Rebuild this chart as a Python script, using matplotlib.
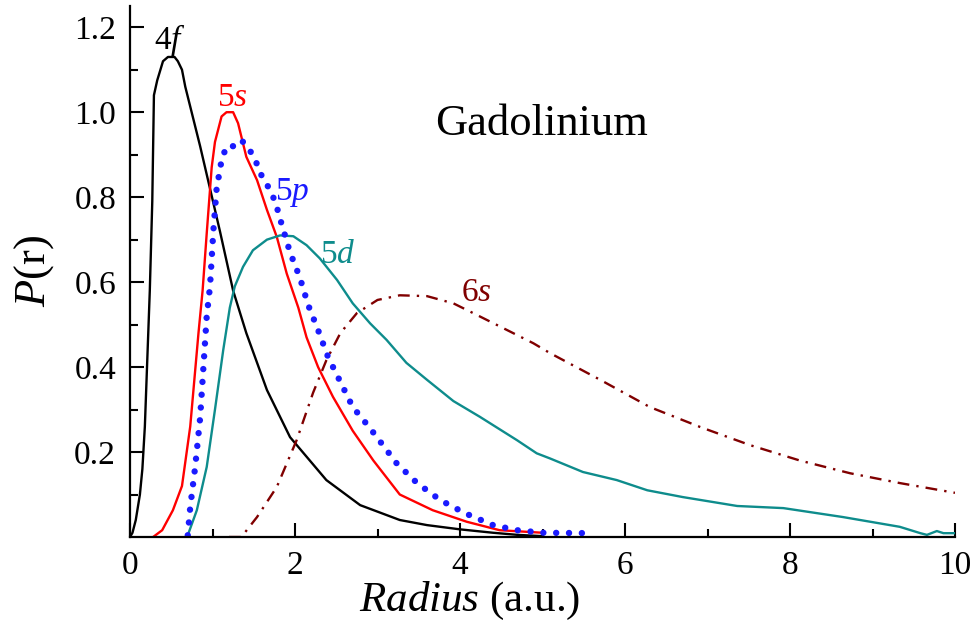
import matplotlib
matplotlib.use("Agg")
import matplotlib.pyplot as plt
from matplotlib.ticker import MultipleLocator, FixedLocator, FormatStrFormatter

plt.rcParams['font.family'] = ['Liberation Serif', 'DejaVu Serif']
plt.rcParams['mathtext.fontset'] = 'custom'
plt.rcParams['mathtext.rm'] = 'Liberation Serif'
plt.rcParams['mathtext.it'] = 'Liberation Serif:italic'

# ---- data ----
r_4f = [0, 0.03, 0.07, 0.12, 0.15, 0.18, 0.21, 0.24, 0.27, 0.29, 0.33, 0.40, 0.46, 0.54, 0.58,
        0.63, 0.67, 0.85, 1.09, 1.25, 1.41, 1.66, 1.94, 2.38, 2.79, 3.27, 3.6, 4.0, 4.4, 4.7, 5.0]
p_4f = [0, 0.01, 0.04, 0.10, 0.16, 0.26, 0.42, 0.58, 0.79, 1.04, 1.075, 1.12, 1.13, 1.13, 1.12,
        1.10, 1.06, 0.92, 0.72, 0.58, 0.48, 0.346, 0.235, 0.134, 0.075, 0.04, 0.028, 0.018, 0.01, 0.005, 0.002]

r_5s = [0.28, 0.39, 0.52, 0.63, 0.73, 0.83, 0.88, 0.93, 0.99, 1.03, 1.11, 1.17, 1.25, 1.31, 1.41,
        1.54, 1.66, 1.78, 1.90, 2.04, 2.14, 2.28, 2.46, 2.70, 2.95, 3.27, 3.67, 4.08, 4.48, 5.0]
p_5s = [0.0, 0.016, 0.063, 0.12, 0.26, 0.48, 0.58, 0.715, 0.87, 0.93, 0.99, 1.0, 1.0, 0.974, 0.895,
        0.84, 0.77, 0.706, 0.62, 0.54, 0.47, 0.40, 0.33, 0.25, 0.18, 0.10, 0.063, 0.036, 0.016, 0.01]

r_5p = [0.70, 0.73, 0.79, 0.85, 0.89, 0.93, 0.97, 1.01, 1.05, 1.11, 1.17, 1.27, 1.35, 1.43, 1.52,
        1.58, 1.66, 1.76, 1.84, 1.94, 2.06, 2.16, 2.28, 2.40, 2.55, 2.70, 2.91, 3.23, 3.48, 3.76,
        4.06, 4.40, 4.69, 5.0, 5.58]
p_5p = [0.004, 0.07, 0.165, 0.28, 0.40, 0.52, 0.59, 0.72, 0.82, 0.887, 0.92, 0.92, 0.934, 0.918, 0.887,
        0.856, 0.83, 0.79, 0.735, 0.67, 0.61, 0.546, 0.487, 0.424, 0.365, 0.306, 0.256, 0.174, 0.127, 0.087,
        0.056, 0.028, 0.016, 0.01, 0.009]

r_5d = [0.70, 0.81, 0.93, 1.03, 1.13, 1.21, 1.27, 1.37, 1.49, 1.66, 1.82, 1.98, 2.14, 2.30, 2.51,
        2.70, 2.91, 3.11, 3.35, 3.6, 3.92, 4.24, 4.69, 4.93, 5.09, 5.49, 5.9, 6.27, 6.70, 7.36,
        7.92, 8.64, 9.33, 9.58, 9.66, 9.78, 9.86, 10.0]
p_5d = [0.004, 0.063, 0.165, 0.30, 0.44, 0.54, 0.59, 0.636, 0.675, 0.70, 0.71, 0.708, 0.687, 0.656, 0.605,
        0.55, 0.503, 0.464, 0.41, 0.37, 0.32, 0.283, 0.228, 0.197, 0.185, 0.153, 0.134, 0.11, 0.094, 0.073,
        0.068, 0.047, 0.024, 0.009, 0.005, 0.014, 0.009, 0.009]

r_6s = [1.20, 1.35, 1.54, 1.78, 2.02, 2.22, 2.38, 2.55, 2.75, 3.0, 3.27, 3.6, 3.92, 4.16, 4.49,
        4.89, 5.09, 5.70, 6.30, 6.91, 7.52, 8.12, 8.73, 9.33, 10.0]
p_6s = [0.0, 0.0, 0.047, 0.118, 0.228, 0.34, 0.416, 0.48, 0.527, 0.558, 0.569, 0.567, 0.55, 0.527, 0.495,
        0.456, 0.433, 0.37, 0.306, 0.259, 0.216, 0.18, 0.15, 0.127, 0.104]

x_ticks = [0, 2, 4, 6, 8, 10]
y_ticks = [0.2, 0.4, 0.6, 0.8, 1.0, 1.2]

# ---- figure ----
fig = plt.figure(figsize=(9.77, 6.22), dpi=100)
ax = fig.add_axes([130/977, 1-537/622, 825/977, 531/622])

ax.plot(r_4f, p_4f, color='black', lw=1.7)
ax.plot(r_5s, p_5s, color='#ff0000', lw=1.7)
ax.plot(r_5d, p_5d, color='#0e8c8c', lw=1.7)
ax.plot(r_6s, p_6s, color='#800000', lw=1.7, linestyle=(0, (5, 3, 1, 3)))
ax.plot(r_5p, p_5p, color='#1a1aff', lw=4.6, linestyle=(0, (0.01, 2.0)), dash_capstyle='round')

ax.set_xlim(0, 10)
ax.set_ylim(0, 1.25)

for s in ['top', 'right']:
    ax.spines[s].set_visible(False)
for s in ['left', 'bottom']:
    ax.spines[s].set_linewidth(1.6)

ax.xaxis.set_major_locator(FixedLocator(x_ticks))
ax.xaxis.set_minor_locator(MultipleLocator(1))
ax.yaxis.set_major_locator(FixedLocator(y_ticks))
ax.yaxis.set_minor_locator(FixedLocator([0.1, 0.3, 0.5, 0.7, 0.9, 1.1]))
ax.yaxis.set_major_formatter(FormatStrFormatter('%.1f'))
ax.xaxis.set_major_formatter(FormatStrFormatter('%d'))
ax.tick_params(which='major', direction='in', length=10, width=1.5, labelsize=24, pad=10)
ax.tick_params(which='minor', direction='in', length=6, width=1.5)

ax.set_xlabel(r'$Radius$ (a.u.)', fontsize=31)
ax.xaxis.set_label_coords(0.412, -0.08)
ax.set_ylabel(r'$P$(r)', fontsize=32)
ax.yaxis.set_label_coords(-0.09, 0.5)

ax.text(4.99, 0.972, 'Gadolinium', fontsize=32, ha='center', va='center')
ax.text(0.48, 1.17, r'4$f$', fontsize=24, ha='center', va='center', color='black')
ax.text(1.24, 1.035, r'5$s$', fontsize=24, ha='center', va='center', color='#ff0000')
ax.text(1.97, 0.81, r'5$p$', fontsize=24, ha='center', va='center', color='#1a1aff')
ax.text(2.52, 0.665, r'5$d$', fontsize=24, ha='center', va='center', color='#0e8c8c')
ax.text(4.2, 0.575, r'6$s$', fontsize=24, ha='center', va='center', color='#800000')

fig.savefig('out.png', dpi=100)
